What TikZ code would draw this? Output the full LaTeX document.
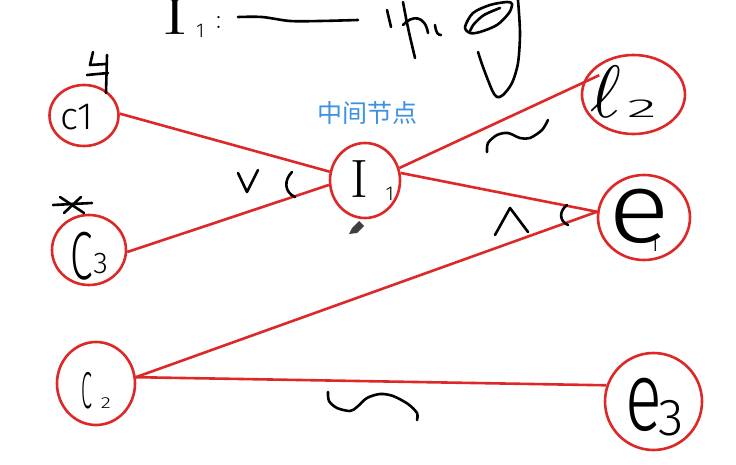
\documentclass[tikz,border=0pt]{standalone}
\usepackage{fontspec}
\newfontfamily\cjkfont{Noto Sans CJK SC}
\newfontfamily\handfont{Fira Sans Light}
\newfontfamily\lmmath{Latin Modern Math}
\usetikzlibrary{shapes.geometric}
\definecolor{penred}{RGB}{222,40,40}
\definecolor{labelblue}{RGB}{60,145,225}
\begin{document}
\begin{tikzpicture}[x=1pt,y=-1pt,
  ring/.style={draw=penred, line width=2.6pt, ellipse, inner sep=0pt},
  link/.style={draw=penred, line width=2.6pt},
  ink/.style={draw=black, line width=2.6pt, line cap=round, line join=round},
  lbl/.style={inner sep=0pt, outer sep=0pt, text=black, anchor=base west},
  fs/.style={font=\handfont\fontsize{#1}{#1}\selectfont}]
\fill[white] (0,0) rectangle (736,465);
\useasboundingbox (0,0) rectangle (736,465);

% circles
\node[ring, minimum width=69pt, minimum height=61pt] (c1) at (84,115.5) {};
\node[ring, minimum width=74pt, minimum height=70pt] (c3) at (89,250) {};
\node[ring, minimum width=78pt, minimum height=83pt] (c2) at (96,383.5) {};
\node[ring, minimum width=70pt, minimum height=75pt] (i1) at (365,180.5) {};
\node[ring, minimum width=103pt, minimum height=79pt] (e2) at (633.5,94.5) {};
\node[ring, minimum width=92pt, minimum height=85pt] (e1) at (644,217.5) {};
\node[ring, minimum width=97pt, minimum height=97pt] (e3) at (653.5,401.5) {};

% connectors
\draw[link] (c1.3) -- (i1.166);
\draw[link] (c3.-3) -- (i1.187);
\draw[link, shorten >=-18pt] (i1.20) -- (e2.167);
\draw[link] (i1.12) -- (e1.173);
\draw[link] (c2.9) -- (e1.173);
\draw[link] (c2.9) -- (e3.161);

% labels inside circles
\node[lbl, fs=38] (tc1) at (60,130) {c1};
\node[lbl] (tc3) at (70,279) {{\handfont\fontsize{68}{68}\selectfont\scalebox{0.6}[1]{C}}\hspace{1pt}\raisebox{6pt}{\handfont\fontsize{30}{30}\selectfont 3}};
\node[lbl] (tc2) at (81,408) {{\handfont\fontsize{52}{52}\selectfont\scalebox{0.38}[1]{C}}\hspace{9pt}{\handfont\fontsize{16}{16}\selectfont\scalebox{1.3}[1]{2}}};
\node[lbl] (ti1) at (350,197) {{\fontsize{54}{54}\selectfont I}\hspace{18pt}\raisebox{-3pt}{\handfont\fontsize{20}{20}\selectfont 1}};
\node[lbl] (te2) at (590,118) {{\lmmath\fontsize{74}{74}\selectfont ℓ}\hspace{6pt}{\handfont\fontsize{26}{26}\selectfont\scalebox{2.4}[1]{2}}};
\node[lbl] (te1) at (608,243) {{\handfont\fontsize{100}{100}\selectfont\scalebox{1.15}[1]{e}}\hspace{-20pt}\raisebox{-9pt}{\handfont\fontsize{22}{22}\selectfont 1}};
\node[lbl] (te3) at (625,430) {{\handfont\fontsize{98}{98}\selectfont\scalebox{0.7}[1]{e}}\hspace{-3pt}\raisebox{-5pt}{\handfont\fontsize{52}{52}\selectfont 3}};

% blue caption
\node[inner sep=0pt, text=labelblue, font=\cjkfont\fontsize{25}{25}\selectfont] (cap) at (367.5,113) {中间节点};

% title
\node[lbl, font=\fontsize{52}{52}\selectfont] (tI) at (162,35) {\scalebox{1.5}[1]{I}};
\node[lbl, fs=20] (tsub) at (196,38) {1};
\node[lbl, font=\fontsize{28}{28}\selectfont] (tcolon) at (215,29) {:};
\draw[ink] plot[smooth] coordinates {(238,17) (262,17) (290,21) (320,21) (358,20)};
\draw[ink] (387,10) -- (391,27);
\draw[ink] (403,2) .. controls (408,30) and (412,45) .. (415,58);
\draw[ink] (403,25) .. controls (412,15) and (425,15) .. (428,33);
\draw[ink] (435,25) .. controls (436,33) and (438,35) .. (441,35);
\draw[ink] plot[smooth cycle] coordinates {(465,27) (473,13) (490,5) (507,2) (512,4) (509,13) (497,25) (480,32) (470,33)};
\draw[ink] plot[smooth] coordinates {(470,31) (474,24) (484,15) (500,8)};
\draw[ink] plot[smooth] coordinates {(518,0) (520,33) (518,63) (512,83) (503,95) (497,97) (492,90) (483,67) (478,52)};

% marks above c1 and c3
\draw[ink] (93,52) -- (90,65) -- (106,64);
\draw[ink] (87,75) -- (108,73);
\draw[ink] (107,55) -- (106,93);
\draw[ink] (53,205) -- (92,203);
\draw[ink] (60,197) -- (84,213);
\draw[ink] (64,213) -- (81,197);

% marks near connectors
\draw[ink] (238,173) -- (247,192) -- (258,170);
\draw[ink] (292,172) .. controls (284,180) and (284,192) .. (295,197);
\draw[ink] plot[smooth] coordinates {(487,152) (488,143) (497,135) (508,133) (520,138) (530,138) (542,130) (548,120)};
\draw[ink] (495,235) -- (510,208) -- (528,232);
\draw[ink] (567,205) .. controls (559,211) and (559,221) .. (568,225);
\draw[ink] plot[smooth] coordinates {(328,392) (329,401) (337,408) (350,411) (357,407) (367,398) (380,394) (393,396) (408,404) (417,413) (417,420)};

% pencil cursor
\fill[black!75] (349,234) -- (352,228) -- (359,221) -- (364,226) -- (357,233) -- cycle;
\end{tikzpicture}
\end{document}
